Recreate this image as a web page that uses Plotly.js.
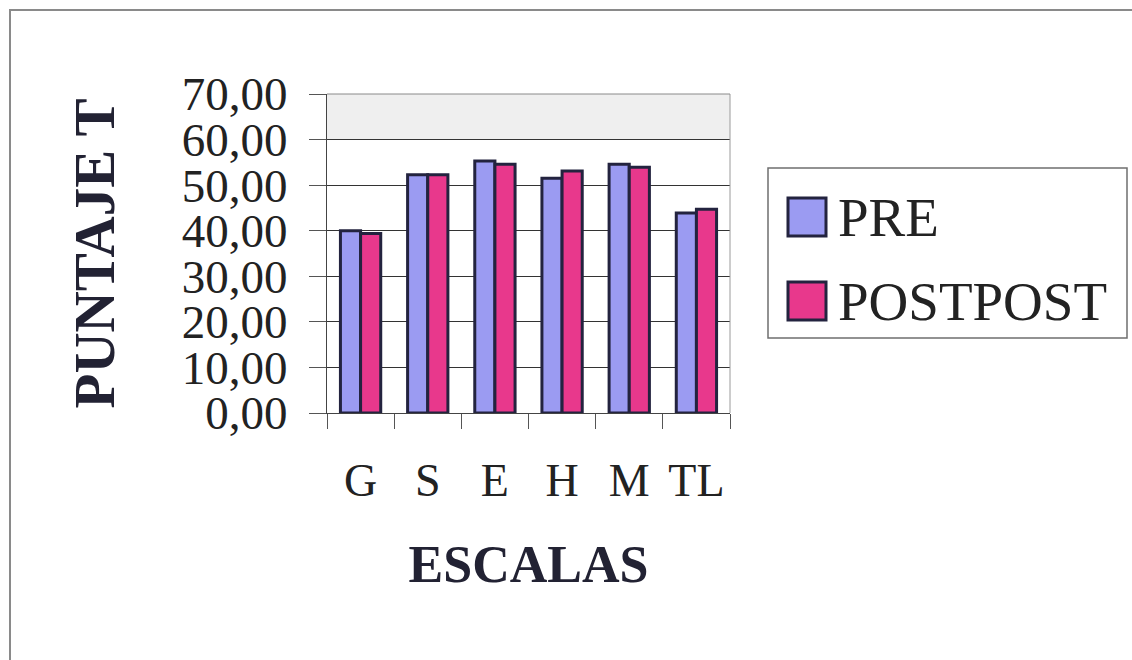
<!DOCTYPE html>
<html>
<head>
<meta charset="utf-8">
<script src="https://cdn.plot.ly/plotly-3.0.1.min.js"></script>
<style>
  html, body { margin: 0; padding: 0; background: #ffffff; overflow: hidden; }
  #frame { position: absolute; left: 9px; top: 9px; width: 1200px; height: 700px;
           border-left: 2px solid #8a8a8a; border-top: 2px solid #8a8a8a; }
  #chart { position: absolute; left: 0; top: 0; width: 1132px; height: 660px; }
</style>
</head>
<body>
<div id="frame"></div>
<div id="chart"></div>
<script>
// ---- data ----
const categories = ["G", "S", "E", "H", "M", "TL"];
const seriesNames = ["PRE", "POSTPOST"];
const preValues = [40.0, 52.3, 55.3, 51.5, 54.6, 43.9];
const postpostValues = [39.4, 52.3, 54.6, 53.1, 53.9, 44.7];
const yTickValues = [0, 10, 20, 30, 40, 50, 60, 70];
const yTickLabels = ["0,00", "10,00", "20,00", "30,00", "40,00", "50,00", "60,00", "70,00"];

// ---- style ----
const colors = ["#9b9bf2", "#e8388c"];
const outline = "#23233f";
const serif = "Liberation Serif, Times New Roman, serif";

const W = 1132, H = 660;
const M = { l: 327, r: 402, t: 94, b: 247 };
const plotW = W - M.l - M.r, plotH = H - M.t - M.b;
// pixel -> paper helpers for the hand-built legend box
const px = x => (x - M.l) / plotW;
const py = y => (H - M.b - y) / plotH;

const seriesValues = [preValues, postpostValues];
const traces = seriesNames.map((name, i) => ({
  type: "bar",
  name: name,
  x: categories,
  y: seriesValues[i],
  marker: { color: colors[i], line: { color: outline, width: 3 } },
  hoverinfo: "x+y+name"
}));

// legend (drawn as shapes + annotations)
const shapes = [
  { type: "rect", xref: "x domain", yref: "y", x0: 0, x1: 1, y0: 60, y1: 70,
    fillcolor: "#efefef", line: { width: 0 }, layer: "below" },
  { type: "rect", xref: "paper", yref: "paper", x0: px(768), x1: px(1127), y0: py(338), y1: py(168),
    fillcolor: "#ffffff", line: { color: "#6f6f6f", width: 1.5 } }
];
const annotations = [];
const rowCenters = [217, 301];
seriesNames.forEach((name, i) => {
  const cy = rowCenters[i];
  shapes.push({ type: "rect", xref: "paper", yref: "paper",
    x0: px(788), x1: px(826), y0: py(cy + 19), y1: py(cy - 19),
    fillcolor: colors[i], line: { color: outline, width: 3 } });
  annotations.push({ xref: "paper", yref: "paper", x: px(836), y: py(cy),
    xanchor: "left", yanchor: "middle", showarrow: false, text: name,
    font: { family: serif, size: 55, color: "#222222" } });
});

const layout = {
  width: W, height: H,
  margin: M,
  paper_bgcolor: "rgba(0,0,0,0)",
  plot_bgcolor: "#ffffff",
  showlegend: false,
  barmode: "group",
  bargap: 0.4,
  bargroupgap: 0,
  font: { family: serif, color: "#222222" },
  xaxis: {
    type: "category",
    tickson: "boundaries",
    tickangle: 0,
    ticks: "outside", ticklen: 15, tickwidth: 1, tickcolor: "#555555",
    ticklabelstandoff: 27,
    tickfont: { family: serif, size: 46, color: "#222222" },
    showline: true, linecolor: "#444444", linewidth: 1, mirror: false,
    showgrid: false, zeroline: false,
    title: { text: "<b>ESCALAS</b>", standoff: 40, font: { family: serif, size: 52, color: "#222233" } }
  },
  yaxis: {
    range: [0, 70],
    tickvals: yTickValues, ticktext: yTickLabels,
    ticks: "outside", ticklen: 17, tickwidth: 1, tickcolor: "#555555",
    ticklabelstandoff: 12,
    tickfont: { family: serif, size: 47, color: "#222222" },
    showline: true, linecolor: "#444444", linewidth: 1,
    showgrid: true, gridcolor: "#333333", gridwidth: 1, zeroline: false,
    title: { text: "<b>PUNTAJE T</b>", standoff: 48, font: { family: serif, size: 57, color: "#222233" } }
  },
  shapes: shapes,
  annotations: annotations
};

// right and top border of plot (light)
shapes.push({ type: "line", xref: "x domain", yref: "y domain", x0: 1, x1: 1, y0: 0, y1: 1,
  line: { color: "#9a9a9a", width: 1 } });
shapes.push({ type: "line", xref: "x domain", yref: "y domain", x0: 0, x1: 1, y0: 1, y1: 1,
  line: { color: "#8a8a8a", width: 1 } });

Plotly.newPlot("chart", traces, layout, { displayModeBar: false, staticPlot: true });
</script>
</body>
</html>
